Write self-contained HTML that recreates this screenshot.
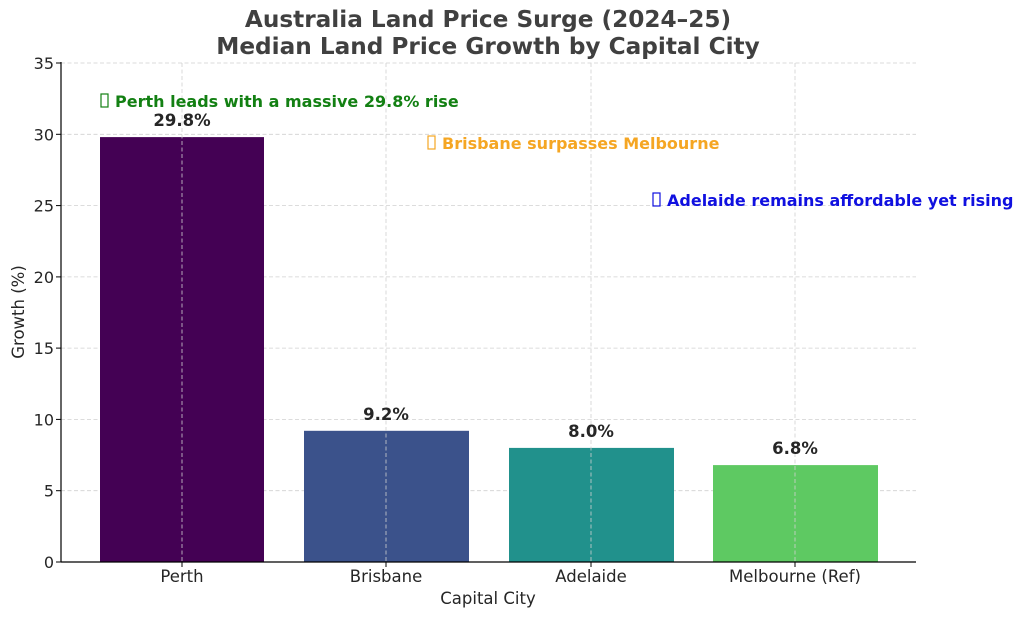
<!DOCTYPE html>
<html><head><meta charset="utf-8"><style>body{margin:0;background:#fff}svg{display:block}</style></head>
<body>
<svg width="1024" height="618" xmlns="http://www.w3.org/2000/svg" font-family="DejaVu Sans, Liberation Sans, sans-serif">
<rect width="1024" height="618" fill="#fff"/>
<g stroke="#d0d0d0" stroke-width="0.8" stroke-dasharray="4,2.5">
<line x1="61" x2="916" y1="490.7" y2="490.7"/><line x1="61" x2="916" y1="419.4" y2="419.4"/>
<line x1="61" x2="916" y1="348.1" y2="348.1"/><line x1="61" x2="916" y1="276.9" y2="276.9"/>
<line x1="61" x2="916" y1="205.6" y2="205.6"/><line x1="61" x2="916" y1="134.3" y2="134.3"/>
<line x1="61" x2="916" y1="63" y2="63"/>
</g>
<rect x="100" y="137.1" width="164" height="424.9" fill="#440154"/>
<rect x="304" y="430.8" width="165" height="131.2" fill="#3b528b"/>
<rect x="509" y="447.9" width="165" height="114.1" fill="#21918c"/>
<rect x="713" y="465.1" width="165" height="96.9" fill="#5ec962"/>
<g stroke="#d0d0d0" stroke-width="0.8" stroke-dasharray="4,2.5">
<line x1="182" x2="182" y1="63" y2="562"/><line x1="386" x2="386" y1="63" y2="562"/>
<line x1="591" x2="591" y1="63" y2="562"/><line x1="795" x2="795" y1="63" y2="562"/>
</g>
<g stroke="#000" stroke-width="1.2" fill="none">
<line x1="61" y1="62" x2="61" y2="562"/><line x1="61" y1="562" x2="916" y2="562"/>
</g>
<g stroke="#000" stroke-width="1">
<line x1="56" x2="61" y1="562" y2="562"/><line x1="56" x2="61" y1="490.7" y2="490.7"/><line x1="56" x2="61" y1="419.4" y2="419.4"/><line x1="56" x2="61" y1="348.1" y2="348.1"/><line x1="56" x2="61" y1="276.9" y2="276.9"/><line x1="56" x2="61" y1="205.6" y2="205.6"/><line x1="56" x2="61" y1="134.3" y2="134.3"/><line x1="56" x2="61" y1="63" y2="63"/>
<line x1="182" x2="182" y1="562" y2="567"/><line x1="386" x2="386" y1="562" y2="567"/><line x1="591" x2="591" y1="562" y2="567"/><line x1="795" x2="795" y1="562" y2="567"/>
</g>
<g font-size="16" fill="#262626" text-anchor="end">
<text x="54" y="568">0</text><text x="54" y="496.7">5</text><text x="54" y="425.4">10</text><text x="54" y="354.1">15</text><text x="54" y="282.9">20</text><text x="54" y="211.6">25</text><text x="54" y="140.3">30</text><text x="54" y="69">35</text>
</g>
<g font-size="16.5" fill="#262626" text-anchor="middle">
<text x="182" y="582">Perth</text><text x="386" y="582">Brisbane</text><text x="591" y="582">Adelaide</text><text x="795" y="582">Melbourne (Ref)</text>
<text x="488" y="604">Capital City</text>
<text transform="translate(24,312) rotate(-90)">Growth (%)</text>
</g>
<g font-size="16.5" font-weight="bold" fill="#262626" text-anchor="middle">
<text x="182" y="126">29.8%</text><text x="386" y="420">9.2%</text><text x="591" y="437">8.0%</text><text x="795" y="454">6.8%</text>
</g>
<g font-size="23.2" font-weight="bold" fill="#404040" text-anchor="middle">
<text x="488" y="27">Australia Land Price Surge (2024–25)</text>
<text x="488" y="54">Median Land Price Growth by Capital City</text>
</g>
<g font-size="16" font-weight="bold">
<g fill="none" stroke-width="1.2">
<rect x="101" y="94" width="7" height="13" stroke="#138013"/>
<rect x="428" y="136" width="7" height="13" stroke="#f5a623"/>
<rect x="653" y="193" width="7" height="13" stroke="#1010e0"/>
</g>
<text x="115" y="107" fill="#138013">Perth leads with a massive 29.8% rise</text>
<text x="442" y="149" fill="#f5a623">Brisbane surpasses Melbourne</text>
<text x="667" y="206" fill="#1010e0">Adelaide remains affordable yet rising</text>
</g>
</svg>
</body></html>
